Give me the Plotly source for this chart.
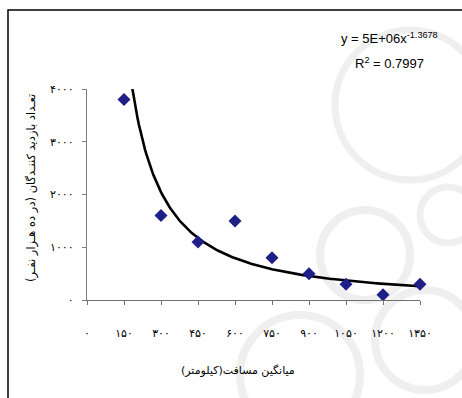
import plotly.graph_objects as go

# ---- data ----
distance_km = [150, 300, 450, 600, 750, 900, 1050, 1200, 1350]
visitors = [3800, 1600, 1100, 1500, 800, 500, 300, 100, 300]

x_tick_vals = [0, 150, 300, 450, 600, 750, 900, 1050, 1200, 1350]
x_tick_text = ["۰", "۱۵۰", "۳۰۰", "۴۵۰", "۶۰۰", "۷۵۰", "۹۰۰", "۱۰۵۰", "۱۲۰۰", "۱۳۵۰"]
y_tick_vals = [0, 1000, 2000, 3000, 4000]
y_tick_text = ["۰", "۱۰۰۰", "۲۰۰۰", "۳۰۰۰", "۴۰۰۰"]

# trendline as displayed on the chart: y = 5E+06 x^-1.3678
trend_coef = 5e6
trend_exp = -1.3678
trend_x = [150 + 5 * i for i in range(241)]
trend_y = [trend_coef * xv ** trend_exp for xv in trend_x]

W, H = 462, 398
L, R, T, B = 87, 42, 89, 98
pw, ph = W - L - R, H - T - B


def px(xp):
    return (xp - L) / pw


def py(yp):
    return (H - B - yp) / ph


fig = go.Figure()

fig.add_trace(go.Scatter(
    x=trend_x, y=trend_y, mode="lines",
    line=dict(color="black", width=2.6), hoverinfo="skip", showlegend=False,
))
fig.add_trace(go.Scatter(
    x=distance_km, y=visitors, mode="markers",
    marker=dict(symbol="diamond", size=10, color="#1f1f88"),
    showlegend=False, cliponaxis=False,
))

shapes = []
# faint watermark arcs
for cx, cy, r, wdt in [(410, 105, 75, 7), (448, 215, 28, 7), (365, 255, 45, 8),
                       (425, 340, 50, 8), (300, 375, 60, 8)]:
    shapes.append(dict(type="circle", xref="paper", yref="paper",
                       x0=px(cx - r), x1=px(cx + r), y0=py(cy + r), y1=py(cy - r),
                       line=dict(color="#efefef", width=wdt), layer="below"))
# outer frame
shapes.append(dict(type="rect", xref="paper", yref="paper",
                   x0=px(8), x1=px(480), y0=py(420), y1=py(10),
                   line=dict(color="black", width=1.5), layer="above"))

annotations = [
    dict(text="y = 5E+06x<sup>-1.3678</sup>", x=px(389), y=py(38), xref="paper", yref="paper",
         xanchor="center", yanchor="middle",
         showarrow=False, font=dict(family="Liberation Sans, Arial", size=13, color="black")),
    dict(text="R<sup>2</sup> = 0.7997", x=px(389), y=py(63), xref="paper", yref="paper",
         xanchor="center", yanchor="middle",
         showarrow=False, font=dict(family="Liberation Sans, Arial", size=13, color="black")),
    dict(text="تعـداد بازدید کننـدگان (در ده هـزار نفـر)", x=px(31), y=py(188),
         xref="paper", yref="paper", showarrow=False, textangle=-90,
         xanchor="center", yanchor="middle",
         font=dict(family="DejaVu Sans", size=11.5, color="black")),
    dict(text="میانگین مسافت(کیلومتر)", x=px(238), y=py(370),
         xref="paper", yref="paper", showarrow=False,
         xanchor="center", yanchor="middle",
         font=dict(family="DejaVu Sans", size=11, color="black")),
]

fig.update_layout(
    width=W, height=H,
    margin=dict(l=L, r=R, t=T, b=B),
    paper_bgcolor="white", plot_bgcolor="rgba(0,0,0,0)",
    shapes=shapes, annotations=annotations,
    xaxis=dict(range=[0, 1350], tickvals=x_tick_vals, ticktext=x_tick_text,
               showgrid=False, zeroline=False, showline=True, linecolor="#707070",
               linewidth=1.3, ticks="outside", ticklen=4, tickcolor="#707070",
               ticklabelstandoff=19, tickfont=dict(family="DejaVu Sans", size=11, color="black")),
    yaxis=dict(range=[0, 4000], tickvals=y_tick_vals, ticktext=y_tick_text,
               showgrid=False, zeroline=False, showline=True, linecolor="#808080",
               linewidth=1.3, ticks="outside", ticklen=4, tickcolor="#808080",
               ticklabelstandoff=6, tickfont=dict(family="DejaVu Sans", size=11, color="black")),
)

fig.write_html("out.html")
